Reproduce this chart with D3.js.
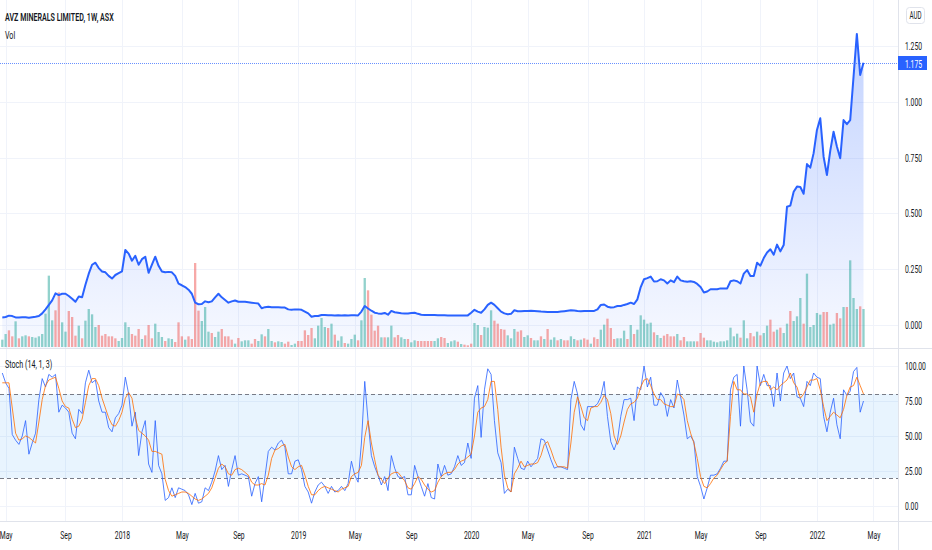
<!DOCTYPE html>
<html>
<head>
<meta charset="utf-8">
<script src="https://cdn.jsdelivr.net/npm/d3@7"></script>
<style>
  body { margin: 0; background: #fff; }
  svg { display: block; font-family: Roboto, "Liberation Sans", sans-serif; }
</style>
</head>
<body>
<svg id="chart" width="932" height="550"></svg>
<script>
// weekly bars, first one dated Mon 24 Apr 2017
const startWeek = new Date(2017, 3, 24);

const closes = [
  0.034,0.036,0.042,0.040,0.034,0.034,0.035,0.035,0.033,0.035,
  0.037,0.040,0.052,0.070,0.090,0.110,0.142,0.134,0.140,0.140,
  0.130,0.118,0.104,0.128,0.124,0.180,0.230,0.270,0.279,0.255,
  0.240,0.236,0.220,0.208,0.224,0.232,0.240,0.336,0.320,0.288,
  0.310,0.270,0.295,0.306,0.234,0.270,0.306,0.265,0.240,0.236,
  0.238,0.236,0.220,0.185,0.178,0.170,0.158,0.140,0.100,0.093,
  0.094,0.106,0.102,0.106,0.124,0.140,0.124,0.112,0.100,0.106,
  0.110,0.104,0.104,0.104,0.102,0.100,0.098,0.096,0.075,0.080,
  0.082,0.080,0.080,0.079,0.078,0.078,0.070,0.068,0.070,0.070,
  0.068,0.060,0.052,0.037,0.040,0.040,0.045,0.045,0.044,0.044,
  0.043,0.044,0.043,0.044,0.043,0.044,0.044,0.043,0.060,0.085,
  0.074,0.064,0.055,0.052,0.050,0.054,0.046,0.063,0.057,0.055,
  0.053,0.052,0.052,0.054,0.055,0.050,0.046,0.045,0.045,0.045,
  0.045,0.044,0.044,0.044,0.043,0.043,0.043,0.043,0.043,0.043,
  0.043,0.055,0.068,0.060,0.055,0.070,0.090,0.100,0.090,0.075,
  0.060,0.052,0.048,0.050,0.066,0.062,0.062,0.063,0.063,0.064,
  0.063,0.062,0.060,0.059,0.058,0.058,0.058,0.058,0.060,0.062,
  0.064,0.066,0.065,0.063,0.062,0.063,0.063,0.063,0.063,0.070,
  0.090,0.092,0.082,0.078,0.080,0.085,0.085,0.090,0.094,0.100,
  0.094,0.115,0.170,0.205,0.210,0.217,0.195,0.196,0.205,0.200,
  0.186,0.200,0.192,0.217,0.200,0.196,0.194,0.196,0.193,0.184,
  0.170,0.146,0.150,0.160,0.160,0.160,0.164,0.164,0.164,0.196,
  0.200,0.196,0.186,0.230,0.246,0.220,0.220,0.279,0.266,0.300,
  0.325,0.339,0.315,0.360,0.330,0.358,0.530,0.535,0.597,0.620,
  0.618,0.588,0.721,0.705,0.770,0.874,0.926,0.754,0.672,0.780,
  0.866,0.800,0.747,0.918,0.900,0.918,1.112,1.304,1.120,1.175
];

// volume, millions of shares (estimated)
const volumes = [
  22,39,50,32,77,26,32,35,32,30,
  28,32,39,100,214,80,110,164,74,46,
  108,90,34,64,26,79,114,98,60,66,
  34,39,32,32,26,18,27,74,60,39,
  34,54,24,35,66,26,70,45,30,18,
  26,24,15,74,32,22,32,24,252,109,
  78,120,46,42,30,46,54,32,32,22,
  10,27,17,20,20,10,24,18,38,32,
  54,18,14,17,15,10,16,6,10,18,
  18,50,36,57,26,64,87,60,57,70,
  37,19,32,12,10,24,37,20,80,207,
  170,97,49,64,29,29,29,64,29,36,
  29,24,24,14,20,18,18,18,18,18,
  18,26,30,27,12,17,20,16,9,7,
  5,10,72,66,36,60,58,110,79,70,
  54,52,35,26,54,46,50,30,35,27,
  20,20,32,24,54,22,29,20,24,20,
  20,32,24,20,22,26,22,10,29,24,
  52,67,85,57,24,26,26,49,24,66,
  39,52,95,82,70,73,44,36,27,34,
  39,32,32,39,20,30,17,17,17,17,
  42,28,20,20,16,14,17,17,20,58,
  32,40,28,80,26,42,32,46,35,42,
  64,82,46,52,58,42,70,108,78,92,
  147,70,220,60,66,102,97,105,105,67,
  70,102,86,120,120,260,147,114,122,114
];

// 1 = up bar (green), 0 = down bar (red)
const volUp = [
  1,1,0,0,1,0,1,1,0,1, 1,1,1,1,1,1,0,0,1,1,
  0,0,0,1,0,1,1,1,1,0, 0,0,0,0,0,1,1,1,1,0,
  0,0,1,0,0,0,1,1,1,0, 1,1,0,0,0,1,0,0,0,0,
  1,1,1,0,1,1,0,0,0,0, 1,0,1,1,1,0,0,1,1,0,
  1,1,0,1,1,0,0,1,1,0, 0,0,0,0,1,1,1,1,0,1,
  0,1,1,0,1,1,1,0,1,1, 0,0,0,0,1,0,1,1,0,0,
  1,1,0,1,1,0,0,0,0,0, 1,1,0,0,1,1,1,0,1,0,
  0,0,1,1,0,1,1,1,0,0, 0,0,1,1,1,0,0,1,1,0,
  1,1,0,1,0,1,1,0,1,0, 0,1,1,0,1,0,0,1,0,0,
  1,1,0,0,0,1,1,1,0,1, 0,1,1,1,1,1,0,1,1,0,
  0,0,0,1,0,0,1,1,1,0, 0,0,1,1,1,1,1,1,1,1,
  1,1,0,1,1,0,0,1,0,1, 1,0,0,1,0,1,1,0,1,1,
  1,0,1,1,1,1,1,0,0,1, 1,0,0,1,0,1,1,1,0,1
];

const stochK = [
  95,88,84,51,47,44,50,61,37,45, 52,76,91,85,94,92,94,67,72,70,
  67,52,48,69,66,88,97,88,90,75, 67,67,56,53,63,66,72,92,80,57,
  67,36,53,61,30,24,61,29,23,4, 6,13,6,13,12,11,8,1,9,2,
  3,13,11,17,25,36,26,29,14,26, 36,22,23,22,21,7,16,21,3,21,
  39,42,40,45,47,42,23,23,32,33, 26,14,10,2,10,15,17,14,9,14,
  10,11,14,11,16,32,22,17,45,89, 61,36,28,22,15,21,11,36,27,21,
  20,21,8,8,29,21,14,7,16,6, 5,30,21,29,22,23,28,36,29,31,
  45,34,77,86,49,83,98,94,61,38, 31,9,12,10,42,34,27,26,32,28,
  31,34,48,47,40,33,27,28,28,27, 26,76,89,80,58,54,71,71,71,73,
  78,89,64,46,40,47,64,76,76,77, 61,85,83,100,85,92,72,72,81,77,
  64,76,70,90,78,65,48,50,46,21, 14,5,13,22,22,23,27,32,32,83,
  92,94,57,100,83,60,57,100,86,94, 86,86,71,95,75,95,100,91,95,78,
  77,71,89,86,95,92,91,64,53,67, 77,58,48,83,79,82,96,99,67,75
];

const stochD = [
  88,88,88,70,52,47,48,50,49,47, 45,60,76,86,90,91,92,84,75,71,
  70,62,56,57,62,74,86,91,91,86, 77,70,63,58,57,61,67,77,81,77,
  63,54,52,50,47,39,39,38,37,19, 11,7,8,9,10,10,9,7,5,4,
  5,7,9,13,20,27,30,28,23,22, 26,27,26,24,22,17,15,15,16,15,
  22,34,40,41,43,44,35,28,26,28, 29,22,14,8,8,11,13,14,13,12,
  11,10,12,13,14,21,23,24,29,49, 61,45,33,22,19,16,20,23,24,24,
  21,18,13,12,16,21,19,15,12,10, 11,17,21,23,24,24,26,30,32,33,
  35,37,50,67,70,71,76,89,89,69, 42,22,13,10,23,27,32,28,29,30,
  30,31,36,44,46,40,33,28,28,28, 27,45,67,78,71,63,61,70,71,71,
  74,79,76,66,50,44,50,60,69,73, 74,77,85,90,91,86,80,76,76,73,
  72,71,71,80,79,76,61,52,45,34, 21,14,13,16,20,22,26,30,32,64,
  89,83,83,80,80,78,67,80,88,89, 89,83,85,83,86,88,90,95,88,85,
  77,80,85,90,90,91,83,71,61,64, 67,65,63,69,79,85,86,92,86,80
];

const priceTicks = [0, 0.25, 0.5, 0.75, 1.0, 1.25];
const stochTicks = [0, 25, 50, 75, 100];
const timeTickDates = ["2017-05-01","2017-09-04","2018-01-01","2018-05-07","2018-09-03",
  "2019-01-07","2019-05-06","2019-09-02","2020-01-06","2020-05-04","2020-09-07",
  "2021-01-04","2021-05-03","2021-09-06","2022-01-03","2022-05-02"];
const timeTickLabels = ["May","Sep","2018","May","Sep","2019","May","Sep","2020",
  "May","Sep","2021","May","Sep","2022","May"];
const lastPrice = 1.175;

// layout
const W = 932, H = 550;
const axisX = 898;          // left edge of right price scale
const mainBottom = 348;     // separator between panes
const timeTop = 521;        // top of time axis
const SQ = 0.62;            // horizontal squeeze of the screenshot's text
const textColor = "#131722";

const svg = d3.select("#chart");

const data = closes.map((c, i) => ({
  date: d3.timeDay.offset(startWeek, 7 * i),
  close: c,
  vol: volumes[i],
  up: volUp[i],
  k: stochK[i],
  d: stochD[i]
}));

const x = d3.scaleTime()
  .domain([data[0].date, data[data.length - 1].date])
  .range([2.3, 863.5]);
const y = d3.scaleLinear().domain([0, 1.25]).range([325, 46]);
const yVol = d3.scaleLinear().domain([0, 300]).range([347, 247]);
const yStoch = d3.scaleLinear().domain([0, 100]).range([506, 366]);

const parse = d3.timeParse("%Y-%m-%d");
const tickDates = timeTickDates.map(parse);

function label(g, px, py, s, opts = {}) {
  return g.append("text")
    .attr("transform", `translate(${px},${py}) scale(${SQ},1)`)
    .attr("fill", opts.fill || textColor)
    .attr("font-size", opts.size || 11)
    .attr("font-weight", opts.weight || 400)
    .attr("text-anchor", opts.anchor || "start")
    .text(s);
}

// clip paths for panes
const defs = svg.append("defs");
defs.append("clipPath").attr("id", "clipMain")
  .append("rect").attr("x", 0).attr("y", 0).attr("width", axisX).attr("height", mainBottom);
defs.append("clipPath").attr("id", "clipStoch")
  .append("rect").attr("x", 0).attr("y", mainBottom + 1).attr("width", axisX).attr("height", timeTop - mainBottom - 1);

const grad = defs.append("linearGradient").attr("id", "areaFill")
  .attr("gradientUnits", "userSpaceOnUse")
  .attr("x1", 0).attr("x2", 0).attr("y1", 34).attr("y2", mainBottom);
grad.append("stop").attr("offset", 0).attr("stop-color", "rgba(41,98,255,0.28)");
grad.append("stop").attr("offset", 1).attr("stop-color", "rgba(41,98,255,0.04)");

// grid
const grid = svg.append("g").attr("stroke", "#f0f3fa").attr("stroke-width", 1);
tickDates.forEach(t => {
  const gx = Math.round(x(t)) + 0.5;
  grid.append("line").attr("x1", gx).attr("x2", gx).attr("y1", 0).attr("y2", timeTop);
});
priceTicks.forEach(v => {
  const gy = Math.round(y(v)) + 0.5;
  grid.append("line").attr("x1", 0).attr("x2", axisX).attr("y1", gy).attr("y2", gy);
});
stochTicks.forEach(v => {
  const gy = Math.round(yStoch(v)) + 0.5;
  grid.append("line").attr("x1", 0).attr("x2", axisX).attr("y1", gy).attr("y2", gy);
});

// main pane
const main = svg.append("g").attr("clip-path", "url(#clipMain)");

main.append("path")
  .datum(data)
  .attr("fill", "url(#areaFill)")
  .attr("d", d3.area().x(d => x(d.date)).y0(mainBottom).y1(d => y(d.close)));

const barW = 2.3;
main.selectAll("rect.vol")
  .data(data)
  .join("rect")
  .attr("class", "vol")
  .attr("x", d => x(d.date) - barW / 2)
  .attr("width", barW)
  .attr("y", d => yVol(d.vol))
  .attr("height", d => yVol(0) - yVol(d.vol))
  .attr("fill", d => d.up ? "rgba(38,166,154,0.5)" : "rgba(239,83,80,0.5)");

main.append("path")
  .datum(data)
  .attr("fill", "none")
  .attr("stroke", "#2962ff")
  .attr("stroke-width", 2)
  .attr("stroke-linejoin", "round")
  .attr("d", d3.line().x(d => x(d.date)).y(d => y(d.close)));

const lastY = Math.round(y(lastPrice)) + 0.5;
svg.append("line")
  .attr("x1", 0).attr("x2", axisX).attr("y1", lastY).attr("y2", lastY)
  .attr("stroke", "#2962ff").attr("stroke-opacity", 0.7)
  .attr("stroke-dasharray", "1,1");

// stochastic pane
const st = svg.append("g").attr("clip-path", "url(#clipStoch)");
st.append("rect")
  .attr("x", 0).attr("width", axisX)
  .attr("y", yStoch(80)).attr("height", yStoch(20) - yStoch(80))
  .attr("fill", "rgba(33,150,243,0.1)");
[80, 20].forEach(v => {
  const gy = Math.round(yStoch(v)) + 0.5;
  st.append("line").attr("x1", 0).attr("x2", axisX).attr("y1", gy).attr("y2", gy)
    .attr("stroke", "#787b86").attr("stroke-dasharray", "4,3");
});
st.append("path").datum(data)
  .attr("fill", "none").attr("stroke", "#2962ff").attr("stroke-width", 1).attr("stroke-opacity", 0.8)
  .attr("d", d3.line().x(d => x(d.date)).y(d => yStoch(d.k)));
st.append("path").datum(data)
  .attr("fill", "none").attr("stroke", "#ff6d00").attr("stroke-width", 1).attr("stroke-opacity", 0.8)
  .attr("d", d3.line().x(d => x(d.date)).y(d => yStoch(d.d)));

// borders
const border = svg.append("g").attr("stroke", "#e0e3eb").attr("stroke-width", 1);
border.append("line").attr("x1", axisX + 0.5).attr("x2", axisX + 0.5).attr("y1", 0).attr("y2", H);
border.append("line").attr("x1", 0).attr("x2", W).attr("y1", mainBottom + 0.5).attr("y2", mainBottom + 0.5);
border.append("line").attr("x1", 0).attr("x2", W).attr("y1", timeTop + 0.5).attr("y2", timeTop + 0.5);

// axes
function styleAxis(g) {
  g.select(".domain").remove();
  g.selectAll(".tick line").remove();
  g.selectAll("text").attr("fill", textColor).attr("font-size", 11)
    .attr("font-family", "Roboto, 'Liberation Sans', sans-serif");
}

const priceAxis = svg.append("g")
  .attr("transform", `translate(${axisX},0)`)
  .call(d3.axisRight(y).tickValues(priceTicks).tickFormat(d3.format(".3f")).tickSize(0).tickPadding(0));
styleAxis(priceAxis);
priceAxis.selectAll("text").attr("x", 0).attr("transform", `translate(7,0) scale(${SQ},1)`);

const stochAxis = svg.append("g")
  .attr("transform", `translate(${axisX},0)`)
  .call(d3.axisRight(yStoch).tickValues(stochTicks).tickFormat(d3.format(".2f")).tickSize(0).tickPadding(0));
styleAxis(stochAxis);
stochAxis.selectAll("text").attr("x", 0).attr("transform", `translate(7,0) scale(${SQ},1)`);

const timeAxis = svg.append("g")
  .attr("transform", `translate(0,${timeTop})`)
  .call(d3.axisBottom(x).tickValues(tickDates)
    .tickFormat((d, i) => timeTickLabels[i]).tickSize(0).tickPadding(0));
styleAxis(timeAxis);
timeAxis.selectAll("text").attr("y", 0).attr("dy", 0)
  .attr("transform", `translate(0,18) scale(${SQ},1)`);

// last price tag
svg.append("rect").attr("x", axisX).attr("y", lastY - 7.5).attr("width", 29).attr("height", 14)
  .attr("fill", "#2962ff");
label(svg, axisX + 7, lastY + 4, d3.format(".3f")(lastPrice), { fill: "#fff", size: 11 });

// currency box
svg.append("rect").attr("x", 906.5).attr("y", 7.5).attr("width", 18).attr("height", 16).attr("rx", 3)
  .attr("fill", "#fff").attr("stroke", "#e0e3eb");
label(svg, 915.5, 19, "AUD", { size: 10, anchor: "middle" });

// pane titles
label(svg, 5, 21, "AVZ MINERALS LIMITED, 1W, ASX", { size: 11.5, weight: 600 });
label(svg, 5, 39, "Vol", { size: 11.5 });
label(svg, 5, 368, "Stoch (14, 1, 3)", { size: 11.5 });
</script>
</body>
</html>
